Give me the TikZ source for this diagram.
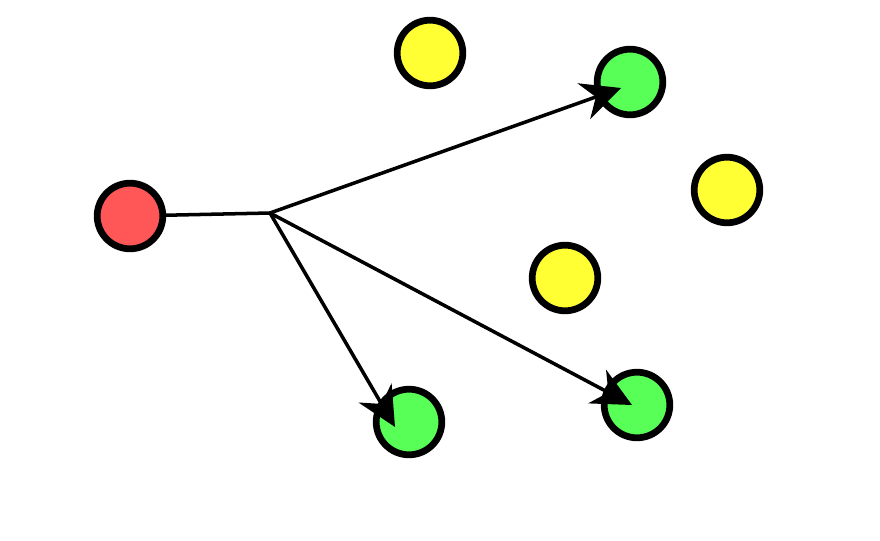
\documentclass[tikz,border=0pt]{standalone}
\usepackage{tikz}
\usepackage{xcolor}
\usetikzlibrary{calc}
\usetikzlibrary{positioning}
\usetikzlibrary{arrows.meta}
\definecolor{srcred}{RGB}{255,87,87}
\definecolor{hitgreen}{RGB}{87,255,87}
\definecolor{missyellow}{RGB}{255,255,51}

\begin{document}
\begin{tikzpicture}[->, >={Stealth[length=28pt, width=27pt, inset=9pt]}, line width=2.5pt]
    \tikzstyle{ball}=[circle, draw=black, line width=4.8pt, minimum size=1.64cm, inner sep=0pt]
    \tikzstyle{src}=[ball, fill=srcred]
    \tikzstyle{hit}=[ball, fill=hitgreen]
    \tikzstyle{miss}=[ball, fill=missyellow]

    \useasboundingbox (0,0) rectangle (22,13.5);

	\node[src] (start) at (3.25, 8.1) {};
	\coordinate (fork) at (6.75, 8.175);

	\node[miss] (y1) at (10.75, 12.175) {};
	\node[miss] (y2) at (18.175, 8.75) {};
	\node[miss] (y3) at (14.125, 6.55) {};

	\node[hit] (g1) at (15.75, 11.45) {};
	\node[hit] (g2) at (10.225, 2.95) {};
	\node[hit] (g3) at (15.925, 3.375) {};

	\coordinate (t1) at ($(g1)-(0.225, 0.15)$);
	\coordinate (t2) at ($(g2)-(0.35, 0.125)$);
	\coordinate (t3) at ($(g3)-(0.125, 0)$);

    \draw[-] (start) -- (fork);
    \draw (fork) -- (t1);
    \draw (fork) -- (t2);
    \draw (fork) -- (t3);
\end{tikzpicture}
\end{document}
